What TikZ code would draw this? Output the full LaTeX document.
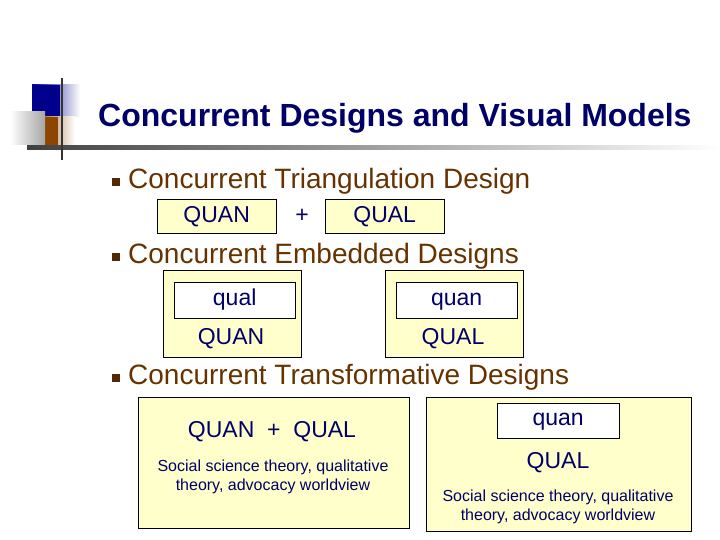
\documentclass[tikz,border=0pt]{standalone}
\usepackage{fontspec}
\setmainfont{Liberation Sans}
\definecolor{navy}{RGB}{0,0,102}
\definecolor{brn}{RGB}{102,51,0}
\definecolor{bx}{RGB}{255,255,204}
\definecolor{dblue}{RGB}{0,0,140}
\definecolor{dbrn}{RGB}{140,70,0}
\tikzset{
 ybox/.style={draw=black,fill=bx,inner sep=0pt,anchor=north west},
 wbox/.style={draw=black,fill=white,inner sep=0pt,anchor=north west},
 btxt/.style={text=navy,font=\fontsize{23}{25}\selectfont},
 stxt/.style={text=navy,font=\fontsize{16}{18.5}\selectfont,align=center},
 bul/.style={text=brn,font=\fontsize{28}{30}\selectfont,anchor=west,inner sep=0pt},
 bsq/.style={fill=brn!80!black,minimum size=8pt,inner sep=0pt}
}
\begin{document}
\begin{tikzpicture}[x=1pt,y=-1pt]
\useasboundingbox (0,0) rectangle (720,540);
% decoration
\shade[left color=dblue,right color=white] (32,85) rectangle (80,117);
\fill[dblue] (32,85) rectangle (60,117);
\shade[left color=dbrn,right color=white] (30,117) rectangle (75,150);
\fill[dbrn] (30,117) rectangle (58,150);
\shade[left color=white,right color=gray!70] (10,112) rectangle (45,145);
\shade[left color=black!75,right color=white] (27,146) rectangle (720,150);
\draw[black!80,line width=2pt] (62,78) -- (62,160);
\node[text=navy,font=\bfseries\fontsize{32}{34}\selectfont,anchor=west,inner sep=0pt] (title) at (98,118) {Concurrent Designs and Visual Models};
% bullets
\node[bsq] (b1) at (116,182) {};
\node[bul] (t1) at (128,181) {Concurrent Triangulation Design};
\node[bsq] (b2) at (116,257) {};
\node[bul] (t2) at (128,256) {Concurrent Embedded Designs};
\node[bsq] (b3) at (116,378) {};
\node[bul] (t3) at (128,377) {Concurrent Transformative Designs};
% row 1
\node[ybox,minimum width=119pt,minimum height=34pt] (qn1) at (157,199) {};
\node[btxt] at (qn1.center) {QUAN};
\node[ybox,minimum width=119pt,minimum height=34pt] (ql1) at (325,199) {};
\node[btxt] at (ql1.center) {QUAL};
\node[btxt] (plus1) at (302,216) {+};
% row 2
\node[ybox,minimum width=138pt,minimum height=87pt] (o1) at (163,270) {};
\node[wbox,minimum width=121pt,minimum height=36pt] (i1) at (174,282) {};
\node[btxt] at (i1.center) {\strut qual};
\node[btxt] (l1) at (231,339) {QUAN};
\node[ybox,minimum width=138pt,minimum height=87pt] (o2) at (385,270) {};
\node[wbox,minimum width=121pt,minimum height=36pt] (i2) at (396,282) {};
\node[btxt] at (i2.center) {\strut quan};
\node[btxt] (l2) at (453,339) {QUAL};
% row 3
\node[ybox,minimum width=271pt,minimum height=131pt] (o3) at (138,397) {};
\node[btxt] (qq) at (272,432) {QUAN\ \ +\ \ QUAL};
\node[stxt] (s1) at (273,477) {Social science theory, qualitative\\theory, advocacy worldview};
\node[ybox,minimum width=265pt,minimum height=134pt] (o4) at (426,397) {};
\node[wbox,minimum width=122pt,minimum height=35pt] (i4) at (497,403) {};
\node[btxt] at (i4.center) {\strut quan};
\node[btxt] (l4) at (558,463) {QUAL};
\node[stxt] (s2) at (558,507) {Social science theory, qualitative\\theory, advocacy worldview};
\end{tikzpicture}
\end{document}
